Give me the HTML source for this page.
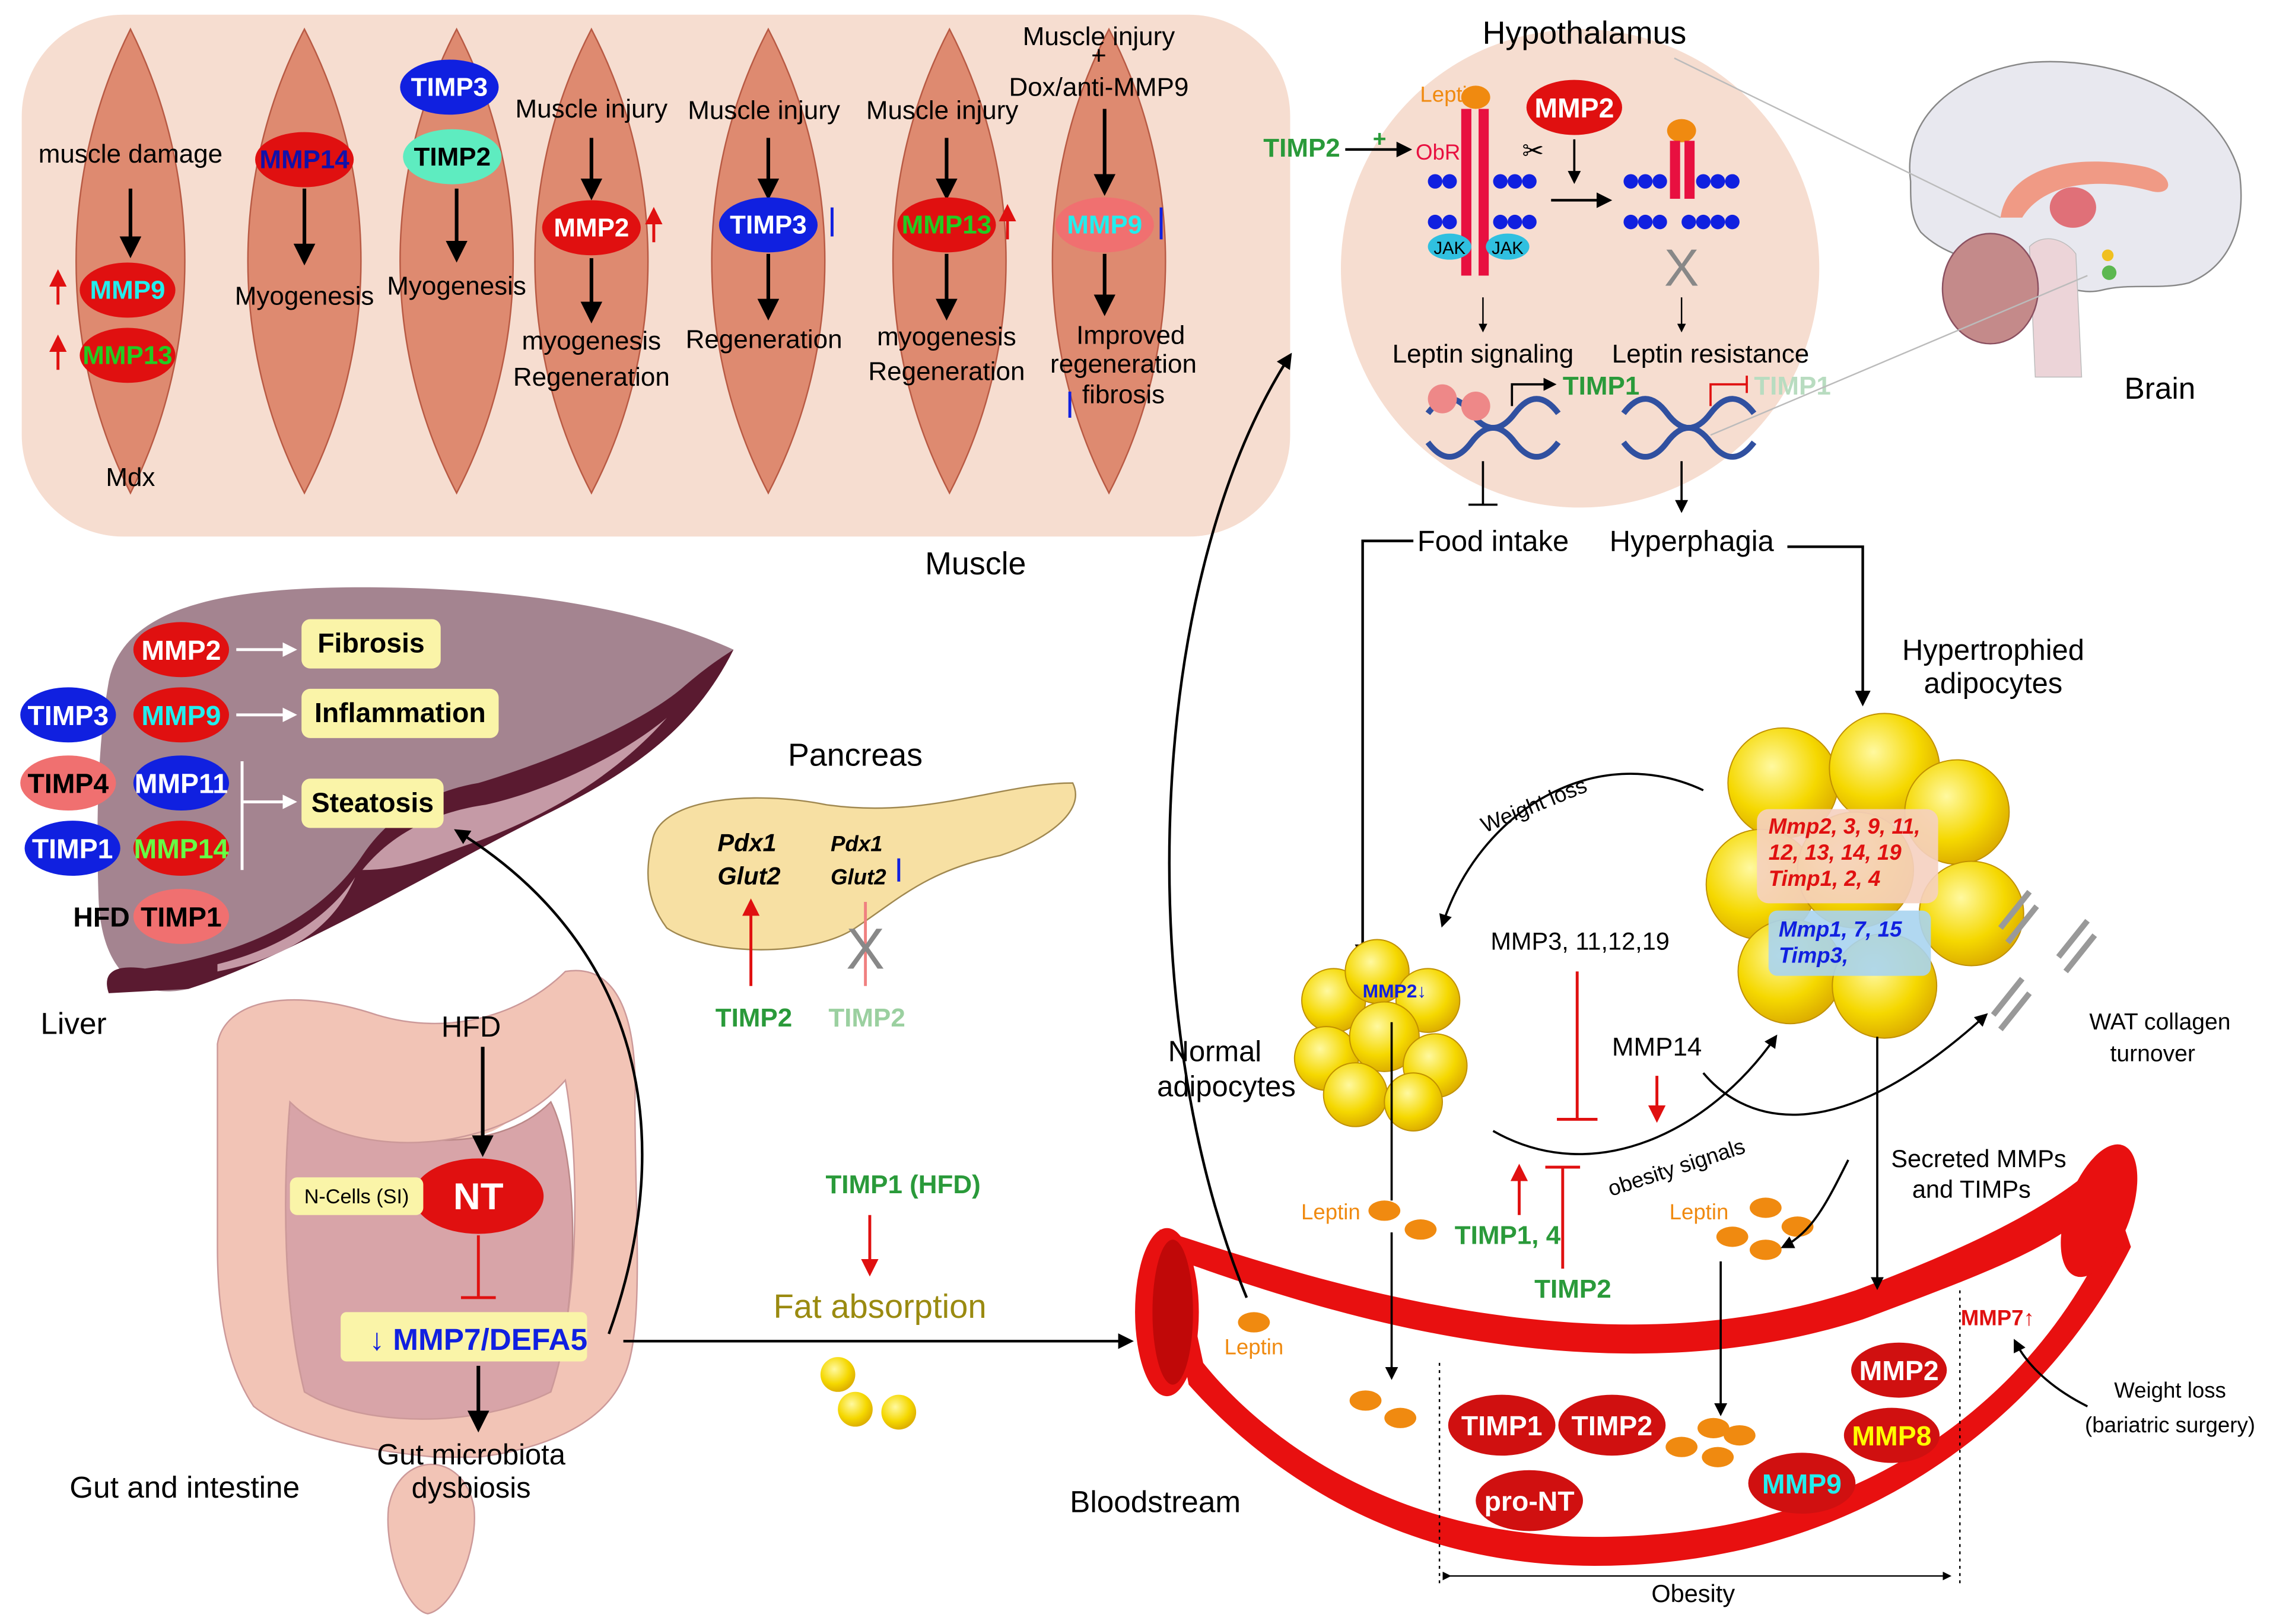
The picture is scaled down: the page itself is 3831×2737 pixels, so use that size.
<!DOCTYPE html>
<html><head><meta charset="utf-8"><style>
html,body{margin:0;padding:0;background:#fff}
svg{display:block}
text{font-family:"Liberation Sans",sans-serif}
</style></head><body>
<svg width="3831" height="2737" viewBox="0 0 1568 1120" xmlns="http://www.w3.org/2000/svg">
<defs>
<marker id="ab" viewBox="0 0 10 10" refX="8" refY="5" markerWidth="6" markerHeight="6" orient="auto"><path d="M0,0L10,5L0,10z" fill="#000"/></marker>
<marker id="aw" viewBox="0 0 10 10" refX="8" refY="5" markerWidth="5" markerHeight="5" orient="auto"><path d="M0,0L10,5L0,10z" fill="#fff"/></marker>
<marker id="ar" viewBox="0 0 10 10" refX="8" refY="5" markerWidth="6" markerHeight="6" orient="auto"><path d="M0,0L10,5L0,10z" fill="#e01010"/></marker>
<radialGradient id="fat" cx="0.4" cy="0.35" r="0.7"><stop offset="0" stop-color="#fff9a0"/><stop offset="0.6" stop-color="#f5d800"/><stop offset="1" stop-color="#d9a800"/></radialGradient>
</defs>
<!-- Muscle box -->
<rect x="15" y="10" width="875" height="360" rx="70" fill="#f6ddd0"/>
<g fill="#de8a70" stroke="#b85a44" stroke-width="1">
<path d="M90,20 C140,120 140,240 90,340 C40,240 40,120 90,20Z"/>
<path d="M210,20 C262,120 262,240 210,340 C158,240 158,120 210,20Z"/>
<path d="M315,20 C367,120 367,240 315,340 C263,240 263,120 315,20Z"/>
<path d="M408,20 C460,120 460,240 408,340 C356,240 356,120 408,20Z"/>
<path d="M530,20 C582,120 582,240 530,340 C478,240 478,120 530,20Z"/>
<path d="M655,20 C707,120 707,240 655,340 C603,240 603,120 655,20Z"/>
<path d="M765,20 C817,120 817,240 765,340 C713,240 713,120 765,20Z"/>
</g>
<g font-size="18" fill="#000" text-anchor="middle">
<text x="90" y="112">muscle damage</text><text x="90" y="335">Mdx</text>
<text x="210" y="210">Myogenesis</text><text x="315" y="203">Myogenesis</text>
<text x="408" y="81">Muscle injury</text><text x="408" y="241">myogenesis</text><text x="408" y="266">Regeneration</text>
<text x="527" y="82">Muscle injury</text><text x="527" y="240">Regeneration</text>
<text x="650" y="82">Muscle injury</text><text x="653" y="238">myogenesis</text><text x="653" y="262">Regeneration</text>
<text x="758" y="31">Muscle injury</text><text x="758" y="44">+</text><text x="758" y="66">Dox/anti-MMP9</text>
<text x="780" y="237">Improved</text><text x="775" y="257">regeneration</text><text x="775" y="278">fibrosis</text>
<text x="673" y="396" font-size="22">Muscle</text>
</g>
<g stroke="#000" stroke-width="2.5" marker-end="url(#ab)">
<line x1="90" y1="130" x2="90" y2="175"/><line x1="210" y1="130" x2="210" y2="180"/><line x1="315" y1="130" x2="315" y2="178"/>
<line x1="408" y1="95" x2="408" y2="135"/><line x1="408" y1="178" x2="408" y2="220"/>
<line x1="530" y1="95" x2="530" y2="135"/><line x1="530" y1="175" x2="530" y2="218"/>
<line x1="653" y1="95" x2="653" y2="135"/><line x1="653" y1="175" x2="653" y2="218"/>
<line x1="762" y1="75" x2="762" y2="132"/><line x1="762" y1="175" x2="762" y2="215"/>
</g>
<g font-size="18" font-weight="bold" text-anchor="middle">
<ellipse cx="88" cy="200" rx="33" ry="19" fill="#e01010"/><text x="88" y="206" fill="#2ee">MMP9</text>
<ellipse cx="88" cy="245" rx="33" ry="19" fill="#e01010"/><text x="88" y="251" fill="#2c2">MMP13</text>
<ellipse cx="210" cy="110" rx="34" ry="19" fill="#e01010"/><text x="210" y="116" fill="#11a">MMP14</text>
<ellipse cx="310" cy="60" rx="34" ry="19" fill="#1020e0"/><text x="310" y="66" fill="#fff">TIMP3</text>
<ellipse cx="312" cy="108" rx="34" ry="19" fill="#5eecc0"/><text x="312" y="114" fill="#000">TIMP2</text>
<ellipse cx="408" cy="157" rx="34" ry="19" fill="#e01010"/><text x="408" y="163" fill="#fff">MMP2</text>
<ellipse cx="530" cy="155" rx="34" ry="19" fill="#1020e0"/><text x="530" y="161" fill="#fff">TIMP3</text>
<ellipse cx="653" cy="155" rx="34" ry="19" fill="#e01010"/><text x="653" y="161" fill="#2c2">MMP13</text>
<ellipse cx="762" cy="155" rx="34" ry="19" fill="#f07070"/><text x="762" y="161" fill="#2ee">MMP9</text>
</g>
<g stroke-width="2"><line x1="40" y1="210" x2="40" y2="188" stroke="#e01010" marker-end="url(#ar)"/><line x1="40" y1="255" x2="40" y2="233" stroke="#e01010" marker-end="url(#ar)"/>
<line x1="451" y1="167" x2="451" y2="145" stroke="#e01010" marker-end="url(#ar)"/><line x1="695" y1="165" x2="695" y2="143" stroke="#e01010" marker-end="url(#ar)"/>
<line x1="574" y1="143" x2="574" y2="163" stroke="#1020e0"/><line x1="801" y1="143" x2="801" y2="165" stroke="#1020e0"/><line x1="738" y1="270" x2="738" y2="288" stroke="#1020e0"/></g>
<!-- Liver -->
<path d="M75,470 C85,420 150,405 250,405 C350,405 440,418 506,448 C480,500 440,530 380,560 C300,600 200,660 130,682 C95,690 70,670 68,620 C66,560 68,510 75,470Z" fill="#a48490"/>
<path d="M506,448 C480,500 440,530 380,560 C300,600 200,660 130,682 L75,685 C70,670 80,665 100,668 C190,655 230,620 250,590 C270,560 300,545 330,540 C380,525 440,500 470,475 C485,462 495,455 506,448Z" fill="#5a1a30"/>
<path d="M250,600 C270,575 300,560 335,555 C380,545 430,520 460,495 C420,540 370,565 330,580 C300,590 280,600 250,600Z" fill="#c59aa6"/>
<path d="M150,665 C190,655 225,635 245,605 C230,640 200,660 150,670Z" fill="#c59aa6"/>
<g font-size="19" font-weight="bold" text-anchor="middle">
<ellipse cx="125" cy="448" rx="33" ry="19" fill="#e01010"/><text x="125" y="455" fill="#fff">MMP2</text>
<ellipse cx="47" cy="493" rx="33" ry="19" fill="#1020e0"/><text x="47" y="500" fill="#fff">TIMP3</text>
<ellipse cx="125" cy="493" rx="33" ry="19" fill="#e01010"/><text x="125" y="500" fill="#2ee">MMP9</text>
<ellipse cx="47" cy="540" rx="33" ry="19" fill="#f07070"/><text x="47" y="547" fill="#000">TIMP4</text>
<ellipse cx="125" cy="540" rx="33" ry="19" fill="#1020e0"/><text x="125" y="547" fill="#fff">MMP11</text>
<ellipse cx="50" cy="585" rx="33" ry="19" fill="#1020e0"/><text x="50" y="592" fill="#fff">TIMP1</text>
<ellipse cx="125" cy="585" rx="33" ry="19" fill="#e01010"/><text x="125" y="592" fill="#6f4">MMP14</text>
<ellipse cx="125" cy="632" rx="33" ry="19" fill="#f07070"/><text x="125" y="639" fill="#000">TIMP1</text>
<text x="70" y="639" fill="#000">HFD</text>
<rect x="208" y="427" width="96" height="34" rx="6" fill="#faf4a8"/><text x="256" y="450" fill="#000">Fibrosis</text>
<rect x="208" y="475" width="136" height="34" rx="6" fill="#faf4a8"/><text x="276" y="498" fill="#000">Inflammation</text>
<rect x="208" y="537" width="98" height="34" rx="6" fill="#faf4a8"/><text x="257" y="560" fill="#000">Steatosis</text>
</g>
<g stroke="#fff" stroke-width="2"><line x1="163" y1="448" x2="203" y2="448" marker-end="url(#aw)"/><line x1="163" y1="493" x2="203" y2="493" marker-end="url(#aw)"/>
<line x1="167" y1="525" x2="167" y2="600"/><line x1="167" y1="553" x2="203" y2="553" marker-end="url(#aw)"/></g>
<text x="28" y="713" font-size="21">Liver</text>
<!-- Pancreas -->
<path d="M450,580 C455,550 520,545 570,555 C640,565 690,540 740,540 C750,560 720,580 690,590 C640,600 620,620 590,640 C560,660 490,660 460,640 C445,620 445,600 450,580Z" fill="#f7e0a3" stroke="#a08850" stroke-width="1"/>
<text x="590" y="528" font-size="22" text-anchor="middle">Pancreas</text>
<g font-size="17" font-weight="bold" font-style="italic"><text x="495" y="587">Pdx1</text><text x="495" y="610">Glut2</text>
<text x="573" y="587" font-size="15">Pdx1</text><text x="573" y="610" font-size="15">Glut2</text></g>
<line x1="518" y1="680" x2="518" y2="622" stroke="#e01010" stroke-width="2" marker-end="url(#ar)"/>
<line x1="597" y1="680" x2="597" y2="622" stroke="#f08080" stroke-width="2"/>
<line x1="620" y1="592" x2="620" y2="608" stroke="#1020e0" stroke-width="2"/>
<text x="597" y="668" font-size="40" fill="#888" text-anchor="middle">X</text>
<text x="520" y="708" font-size="18" font-weight="bold" fill="#2a9a3a" text-anchor="middle">TIMP2</text>
<text x="598" y="708" font-size="18" font-weight="bold" fill="#9bd0a0" text-anchor="middle">TIMP2</text>
<!-- Intestine -->
<path d="M268,1040 C265,1070 280,1110 295,1113 C312,1110 330,1070 327,1040 C320,1000 275,1000 268,1040Z" fill="#f2c4b6" stroke="#c99" stroke-width="1"/>
<path d="M190,760 C230,790 290,800 340,780 C380,760 390,720 400,700 C380,730 360,760 330,770 C290,780 240,770 200,745Z" fill="#f2c4b6"/>
<path d="M200,760 C260,790 340,800 380,760 C400,800 400,900 380,960 C330,990 250,990 210,960 C195,900 195,820 200,760Z" fill="#d8a4a8" stroke="#b88" stroke-width="1"/>
<path d="M150,720 C155,690 200,680 260,700 C310,715 360,700 390,670 C420,665 440,690 438,760 C438,840 445,920 430,950 C415,985 370,1000 330,1005 L300,1005 C250,1000 200,990 175,970 C155,940 150,900 150,860Z M200,760 C195,820 195,900 210,960 C250,985 330,985 380,960 C400,900 400,800 390,745 C360,780 300,795 250,785 C225,780 210,770 200,760Z" fill="#f2c4b6" stroke="#c99" stroke-width="1" fill-rule="evenodd"/>
<line x1="333" y1="722" x2="333" y2="795" stroke="#000" stroke-width="2.5" marker-end="url(#ab)"/>
<text x="325" y="715" font-size="20" text-anchor="middle">HFD</text>
<ellipse cx="330" cy="825" rx="45" ry="26" fill="#e01010"/><text x="330" y="834" font-size="26" font-weight="bold" fill="#fff" text-anchor="middle">NT</text>
<rect x="200" y="812" width="92" height="26" rx="5" fill="#faf4a8"/><text x="246" y="830" font-size="14" text-anchor="middle">N-Cells (SI)</text>
<line x1="330" y1="852" x2="330" y2="895" stroke="#e01010" stroke-width="2"/><line x1="318" y1="895" x2="342" y2="895" stroke="#e01010" stroke-width="2"/>
<rect x="235" y="905" width="170" height="34" rx="4" fill="#faf4a8"/><text x="330" y="931" font-size="21" font-weight="bold" fill="#1020e0" text-anchor="middle">↓ MMP7/DEFA5</text>
<line x1="330" y1="942" x2="330" y2="985" stroke="#000" stroke-width="2.5" marker-end="url(#ab)"/>
<text x="325" y="1010" font-size="20" text-anchor="middle">Gut microbiota</text><text x="325" y="1033" font-size="20" text-anchor="middle">dysbiosis</text>
<text x="48" y="1033" font-size="21">Gut and intestine</text>
<path d="M420,920 C470,780 440,650 315,573" fill="none" stroke="#000" stroke-width="1.8" marker-end="url(#ab)"/>
<line x1="430" y1="925" x2="780" y2="925" stroke="#000" stroke-width="1.8" marker-end="url(#ab)"/>
<text x="623" y="823" font-size="18" font-weight="bold" fill="#2a9a3a" text-anchor="middle">TIMP1 (HFD)</text>
<line x1="600" y1="838" x2="600" y2="878" stroke="#e01010" stroke-width="2" marker-end="url(#ar)"/>
<text x="607" y="909" font-size="23" fill="#9a8a10" text-anchor="middle">Fat absorption</text>
<circle cx="578" cy="948" r="12" fill="url(#fat)"/><circle cx="590" cy="972" r="12" fill="url(#fat)"/><circle cx="620" cy="974" r="12" fill="url(#fat)"/>
<!-- Bloodstream -->
<path d="M800,848 C900,880 1100,950 1280,890 C1360,860 1420,830 1450,800 L1470,860 C1420,960 1300,1080 1100,1080 C950,1080 860,1000 820,955 Z" fill="#e81010"/>
<path d="M815,870 C900,900 1100,970 1285,910 C1365,880 1420,860 1448,830 L1455,850 C1410,950 1300,1060 1100,1060 C960,1060 870,990 830,940 Z" fill="#fff"/>
<ellipse cx="805" cy="905" rx="22" ry="58" fill="#e81010"/><ellipse cx="809" cy="905" rx="14" ry="50" fill="#c00808"/>
<ellipse cx="1448" cy="835" rx="22" ry="48" fill="#e81010" transform="rotate(20 1448 835)"/>
<text x="738" y="1043" font-size="21">Bloodstream</text>
<ellipse cx="865" cy="912" rx="11" ry="7" fill="#f08a10"/><text x="865" y="934" font-size="15" fill="#f08a10" text-anchor="middle">Leptin</text>
<path d="M860,895 C780,700 790,400 890,245" fill="none" stroke="#000" stroke-width="1.8" marker-end="url(#ab)"/>
<g fill="#f08a10"><ellipse cx="942" cy="966" rx="11" ry="7"/><ellipse cx="966" cy="978" rx="11" ry="7"/>
<ellipse cx="955" cy="835" rx="11" ry="7"/><ellipse cx="980" cy="848" rx="11" ry="7"/>
<ellipse cx="1195" cy="853" rx="11" ry="7"/><ellipse cx="1218" cy="833" rx="11" ry="7"/><ellipse cx="1240" cy="846" rx="11" ry="7"/><ellipse cx="1218" cy="862" rx="11" ry="7"/>
<ellipse cx="1160" cy="998" rx="11" ry="7"/><ellipse cx="1182" cy="985" rx="11" ry="7"/><ellipse cx="1200" cy="990" rx="11" ry="7"/><ellipse cx="1185" cy="1005" rx="11" ry="7"/></g>
<text x="918" y="841" font-size="15" fill="#f08a10" text-anchor="middle">Leptin</text><text x="1172" y="841" font-size="15" fill="#f08a10" text-anchor="middle">Leptin</text>
<g font-size="19" font-weight="bold" text-anchor="middle">
<ellipse cx="1036" cy="983" rx="37" ry="21" fill="#d01010"/><text x="1036" y="990" fill="#fff">TIMP1</text>
<ellipse cx="1112" cy="983" rx="37" ry="21" fill="#d01010"/><text x="1112" y="990" fill="#fff">TIMP2</text>
<ellipse cx="1055" cy="1035" rx="37" ry="21" fill="#d01010"/><text x="1055" y="1042" fill="#fff">pro-NT</text>
<ellipse cx="1243" cy="1023" rx="37" ry="21" fill="#d01010"/><text x="1243" y="1030" fill="#2ee">MMP9</text>
<ellipse cx="1310" cy="945" rx="33" ry="19" fill="#d01010"/><text x="1310" y="952" fill="#fff">MMP2</text>
<ellipse cx="1305" cy="990" rx="33" ry="19" fill="#d01010"/><text x="1305" y="997" fill="#ff0">MMP8</text>
<text x="1378" y="914" font-size="15" fill="#e01010">MMP7↑</text>
</g>
<g stroke="#000" stroke-dasharray="2,3"><line x1="993" y1="940" x2="993" y2="1095"/><line x1="1352" y1="890" x2="1352" y2="1095"/></g>
<line x1="1000" y1="1087" x2="1345" y2="1087" stroke="#000" marker-end="url(#ab)" marker-start="url(#ab)"/>
<text x="1168" y="1105" font-size="17" text-anchor="middle">Obesity</text>
<text x="1497" y="964" font-size="15" text-anchor="middle">Weight loss</text><text x="1497" y="988" font-size="15" text-anchor="middle">(bariatric surgery)</text>
<path d="M1440,970 C1420,960 1400,945 1390,925" fill="none" stroke="#000" stroke-width="1.5" marker-end="url(#ab)"/>
<!-- Hypothalamus -->
<circle cx="1090" cy="185" r="165" fill="#f6ddd0"/>
<text x="1093" y="30" font-size="22" text-anchor="middle">Hypothalamus</text>
<text x="1000" y="70" font-size="15" fill="#f08a10" text-anchor="middle">Leptin</text>
<ellipse cx="1018" cy="67" rx="10" ry="8" fill="#f08a10"/>
<rect x="1008" y="75" width="7" height="115" fill="#e81040"/><rect x="1020" y="75" width="7" height="115" fill="#e81040"/>
<g fill="#1020e0"><circle cx="990" cy="125" r="5"/><circle cx="1000" cy="125" r="5"/><circle cx="1035" cy="125" r="5"/><circle cx="1045" cy="125" r="5"/><circle cx="1055" cy="125" r="5"/><circle cx="990" cy="153" r="5"/><circle cx="1000" cy="153" r="5"/><circle cx="1035" cy="153" r="5"/><circle cx="1045" cy="153" r="5"/><circle cx="1055" cy="153" r="5"/>
<circle cx="1125" cy="125" r="5"/><circle cx="1135" cy="125" r="5"/><circle cx="1145" cy="125" r="5"/><circle cx="1175" cy="125" r="5"/><circle cx="1185" cy="125" r="5"/><circle cx="1195" cy="125" r="5"/><circle cx="1125" cy="153" r="5"/><circle cx="1135" cy="153" r="5"/><circle cx="1145" cy="153" r="5"/><circle cx="1165" cy="153" r="5"/><circle cx="1175" cy="153" r="5"/><circle cx="1185" cy="153" r="5"/><circle cx="1195" cy="153" r="5"/></g>
<ellipse cx="1000" cy="170" rx="15" ry="9" fill="#30c0e0"/><text x="1000" y="175" font-size="12" text-anchor="middle">JAK</text>
<ellipse cx="1040" cy="170" rx="15" ry="9" fill="#30c0e0"/><text x="1040" y="175" font-size="12" text-anchor="middle">JAK</text>
<text x="992" y="110" font-size="15" fill="#e81040" text-anchor="middle">ObR</text>
<ellipse cx="1160" cy="90" rx="10" ry="8" fill="#f08a10"/><rect x="1152" y="97" width="7" height="40" fill="#e81040"/><rect x="1162" y="97" width="7" height="40" fill="#e81040"/>
<ellipse cx="1086" cy="74" rx="33" ry="19" fill="#e01010"/><text x="1086" y="81" font-size="19" font-weight="bold" fill="#fff" text-anchor="middle">MMP2</text>
<text x="1050" y="110" font-size="18">✂</text>
<line x1="1086" y1="96" x2="1086" y2="125" stroke="#000" stroke-width="1.5" marker-end="url(#ab)"/>
<line x1="1070" y1="138" x2="1110" y2="138" stroke="#000" stroke-width="1.8" marker-end="url(#ab)"/>
<text x="898" y="108" font-size="18" font-weight="bold" fill="#2a9a3a" text-anchor="middle">TIMP2</text><text x="947" y="101" font-size="16" font-weight="bold" fill="#2a9a3a">+</text>
<line x1="928" y1="103" x2="972" y2="103" stroke="#000" stroke-width="1.8" marker-end="url(#ab)"/>
<text x="1160" y="197" font-size="36" fill="#888" text-anchor="middle">X</text>
<line x1="1023" y1="205" x2="1023" y2="228" stroke="#000" marker-end="url(#ab)"/><line x1="1160" y1="205" x2="1160" y2="228" stroke="#000" marker-end="url(#ab)"/>
<text x="1023" y="250" font-size="18" text-anchor="middle">Leptin signaling</text><text x="1180" y="250" font-size="18" text-anchor="middle">Leptin resistance</text>
<text x="1078" y="272" font-size="18" font-weight="bold" fill="#2a9a3a">TIMP1</text><text x="1210" y="272" font-size="18" font-weight="bold" fill="#b8dcc0">TIMP1</text>
<path d="M1043,280 V265 H1072" fill="none" stroke="#000" stroke-width="1.5" marker-end="url(#ab)"/>
<path d="M1180,280 V265 H1205 M1205,259 V271" fill="none" stroke="#e01010" stroke-width="1.5"/>
<g stroke="#3050a0" stroke-width="4" fill="none"><path d="M985,285 q15,-20 30,0 t30,0 t30,0"/><path d="M985,305 q15,20 30,0 t30,0 t30,0"/>
<path d="M1120,285 q15,-20 30,0 t30,0 t30,0"/><path d="M1120,305 q15,20 30,0 t30,0 t30,0"/></g>
<ellipse cx="995" cy="275" rx="10" ry="10" fill="#e88"/><ellipse cx="1018" cy="280" rx="10" ry="10" fill="#e88"/>
<line x1="1023" y1="318" x2="1023" y2="348" stroke="#000" stroke-width="1.5"/><line x1="1013" y1="348" x2="1033" y2="348" stroke="#000" stroke-width="1.5"/>
<line x1="1160" y1="318" x2="1160" y2="352" stroke="#000" stroke-width="1.5" marker-end="url(#ab)"/>
<text x="1030" y="380" font-size="20" text-anchor="middle">Food intake</text><text x="1167" y="380" font-size="20" text-anchor="middle">Hyperphagia</text>
<path d="M975,373 H940 V660" fill="none" stroke="#000" stroke-width="1.8" marker-end="url(#ab)"/>
<path d="M1233,377 H1285 V485" fill="none" stroke="#000" stroke-width="1.8" marker-end="url(#ab)"/>
<!-- Brain -->
<path d="M1318,125 C1312,80 1350,50 1400,43 C1460,38 1530,65 1545,120 C1550,160 1535,185 1510,195 C1490,200 1470,195 1450,200 C1430,205 1410,190 1390,185 C1360,180 1340,175 1325,160 C1318,150 1318,140 1318,125Z" fill="#e8e8ef" stroke="#888" stroke-width="1"/>
<path d="M1380,150 C1385,115 1430,105 1480,115 C1500,120 1500,135 1485,132 C1450,122 1410,125 1395,150Z" fill="#f09a85"/>
<ellipse cx="1430" cy="143" rx="16" ry="14" fill="#e07078"/>
<path d="M1400,170 C1410,160 1425,165 1432,175 L1436,260 L1404,260Z" fill="#ecd4d8" stroke="#bbb" stroke-width="0.6"/>
<ellipse cx="1373" cy="199" rx="33" ry="38" fill="#c48a8a" stroke="#8a5060" stroke-width="1"/>
<circle cx="1455" cy="188" r="5" fill="#5cb850"/><circle cx="1454" cy="176" r="4" fill="#f0c020"/>
<line x1="1155" y1="40" x2="1380" y2="150" stroke="#bbb"/><line x1="1180" y1="300" x2="1440" y2="190" stroke="#bbb"/>
<text x="1490" y="275" font-size="21" text-anchor="middle">Brain</text>
<!-- Adipocytes -->
<text x="1375" y="455" font-size="20" text-anchor="middle">Hypertrophied</text><text x="1375" y="478" font-size="20" text-anchor="middle">adipocytes</text>
<g fill="url(#fat)" stroke="#c09000" stroke-width="0.8">
<circle cx="1230" cy="540" r="38"/><circle cx="1300" cy="530" r="38"/><circle cx="1350" cy="560" r="36"/><circle cx="1215" cy="610" r="38"/><circle cx="1360" cy="630" r="36"/><circle cx="1235" cy="670" r="36"/><circle cx="1300" cy="680" r="36"/><circle cx="1280" cy="600" r="40"/>
<circle cx="920" cy="690" r="22"/><circle cx="950" cy="670" r="22"/><circle cx="985" cy="690" r="22"/><circle cx="915" cy="730" r="22"/><circle cx="955" cy="715" r="24"/><circle cx="990" cy="735" r="22"/><circle cx="935" cy="755" r="22"/><circle cx="975" cy="760" r="20"/></g>
<rect x="1212" y="558" width="125" height="65" rx="8" fill="#f5d0c0" opacity="0.9"/>
<g font-size="15" font-weight="bold" font-style="italic" fill="#e01010"><text x="1220" y="575">Mmp2, 3, 9, 11,</text><text x="1220" y="593">12, 13, 14, 19</text><text x="1220" y="611">Timp1, 2, 4</text></g>
<rect x="1220" y="628" width="112" height="45" rx="6" fill="#a8d4f0" opacity="0.9"/>
<g font-size="15" font-weight="bold" font-style="italic" fill="#1020e0"><text x="1227" y="646">Mmp1, 7, 15</text><text x="1227" y="664">Timp3,</text></g>
<text x="940" y="688" font-size="13" font-weight="bold" fill="#1020e0">MMP2↓</text>
<text x="838" y="732" font-size="20" text-anchor="middle">Normal</text><text x="846" y="756" font-size="20" text-anchor="middle">adipocytes</text>
<path d="M1175,545 C1100,510 1020,560 995,638" fill="none" stroke="#000" stroke-width="1.5" marker-end="url(#ab)"/>
<text x="1060" y="560" font-size="15" transform="rotate(-22 1060 560)" text-anchor="middle">Weight loss</text>
<text x="1090" y="655" font-size="17" text-anchor="middle">MMP3, 11,12,19</text>
<line x1="1088" y1="670" x2="1088" y2="772" stroke="#e01010" stroke-width="2"/><line x1="1074" y1="772" x2="1102" y2="772" stroke="#e01010" stroke-width="2"/>
<text x="1143" y="728" font-size="18" text-anchor="middle">MMP14</text>
<line x1="1143" y1="742" x2="1143" y2="772" stroke="#e01010" stroke-width="2" marker-end="url(#ar)"/>
<path d="M1030,780 C1100,820 1180,780 1225,715" fill="none" stroke="#000" stroke-width="1.5" marker-end="url(#ab)"/>
<path d="M1175,740 C1200,770 1260,800 1370,700" fill="none" stroke="#000" stroke-width="1.5" marker-end="url(#ab)"/>
<text x="1158" y="810" font-size="15" transform="rotate(-18 1158 810)" text-anchor="middle">obesity signals</text>
<line x1="1048" y1="838" x2="1048" y2="805" stroke="#e01010" stroke-width="2" marker-end="url(#ar)"/>
<line x1="1078" y1="875" x2="1078" y2="805" stroke="#e01010" stroke-width="2"/><line x1="1066" y1="805" x2="1090" y2="805" stroke="#e01010" stroke-width="2"/>
<text x="1040" y="858" font-size="18" font-weight="bold" fill="#2a9a3a" text-anchor="middle">TIMP1, 4</text>
<text x="1085" y="895" font-size="18" font-weight="bold" fill="#2a9a3a" text-anchor="middle">TIMP2</text>
<line x1="960" y1="705" x2="960" y2="828" stroke="#000" stroke-width="1.5"/>
<line x1="960" y1="850" x2="960" y2="950" stroke="#000" stroke-width="1.5" marker-end="url(#ab)"/>
<line x1="1187" y1="870" x2="1187" y2="975" stroke="#000" stroke-width="1.5" marker-end="url(#ab)"/>
<line x1="1295" y1="715" x2="1295" y2="888" stroke="#000" stroke-width="1.5" marker-end="url(#ab)"/>
<path d="M1275,800 C1260,830 1250,850 1230,860" fill="none" stroke="#000" stroke-width="1.5" marker-end="url(#ab)"/>
<text x="1365" y="805" font-size="17" text-anchor="middle">Secreted MMPs</text><text x="1360" y="826" font-size="17" text-anchor="middle">and TIMPs</text>
<g stroke="#999" stroke-width="4" fill="none"><path d="M1380,640 l20,-25 M1385,650 l20,-25"/><path d="M1420,660 l20,-25 M1425,670 l20,-25"/><path d="M1375,700 l20,-25 M1380,710 l20,-25"/></g>
<text x="1490" y="710" font-size="16" text-anchor="middle">WAT collagen</text><text x="1485" y="732" font-size="16" text-anchor="middle">turnover</text>
</svg>
</body></html>
